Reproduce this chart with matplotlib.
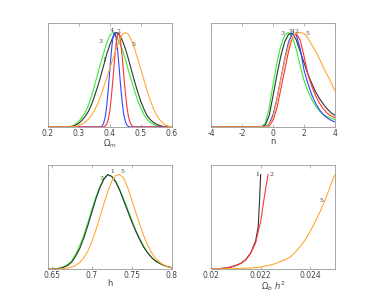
import numpy as np
import matplotlib
matplotlib.use('Agg')
import matplotlib.pyplot as plt

# ── DATA ─────────────────────────────────────────────────────────────────
# panel 1 : Omega_m
OM_GREEN_X = [0.20, 0.26, 0.27, 0.28, 0.29, 0.30, 0.31, 0.32, 0.33, 0.34, 0.35, 0.36, 0.37,
              0.38, 0.39, 0.40, 0.41, 0.42, 0.43, 0.44, 0.45, 0.46, 0.47, 0.48, 0.49,
              0.50, 0.51, 0.52, 0.53, 0.54, 0.55, 0.56, 0.57, 0.58, 0.60]
OM_GREEN_Y = [0, 0, 0.005, 0.01, 0.03, 0.06, 0.1, 0.15, 0.22, 0.32, 0.43, 0.55, 0.67,
              0.78, 0.89, 0.97, 1.0, 0.97, 0.9, 0.82, 0.72, 0.6, 0.49, 0.38, 0.28,
              0.2, 0.13, 0.08, 0.05, 0.03, 0.015, 0.007, 0.003, 0, 0]
OM_BLACK_X = [0.20, 0.26, 0.27, 0.28, 0.29, 0.30, 0.31, 0.32, 0.33, 0.34, 0.35, 0.36, 0.37,
              0.38, 0.39, 0.40, 0.41, 0.42, 0.43, 0.44, 0.45, 0.46, 0.47, 0.48, 0.49,
              0.50, 0.51, 0.52, 0.53, 0.54, 0.55, 0.56, 0.57, 0.58, 0.59, 0.60]
OM_BLACK_Y = [0, 0, 0.003, 0.008, 0.02, 0.04, 0.07, 0.11, 0.16, 0.23, 0.32, 0.42, 0.53,
              0.65, 0.77, 0.87, 0.95, 1.0, 0.98, 0.92, 0.83, 0.72, 0.6, 0.48, 0.37,
              0.27, 0.19, 0.12, 0.08, 0.05, 0.03, 0.015, 0.007, 0.003, 0, 0]
OM_BLUE_X = [0.20, 0.37, 0.375, 0.38, 0.385, 0.39, 0.395, 0.40, 0.405, 0.41, 0.415, 0.42,
             0.425, 0.43, 0.435, 0.44, 0.445, 0.45, 0.455, 0.46, 0.465, 0.60]
OM_BLUE_Y = [0, 0, 0.01, 0.04, 0.1, 0.22, 0.4, 0.6, 0.8, 0.95, 1.0, 0.95,
             0.82, 0.63, 0.43, 0.26, 0.13, 0.06, 0.02, 0.005, 0, 0]
OM_RED_X = [0.20, 0.38, 0.385, 0.39, 0.395, 0.40, 0.405, 0.41, 0.415, 0.42, 0.425, 0.43,
            0.435, 0.44, 0.445, 0.45, 0.455, 0.46, 0.465, 0.47, 0.475, 0.48, 0.60]
OM_RED_Y = [0, 0, 0.01, 0.03, 0.08, 0.17, 0.32, 0.5, 0.7, 0.87, 0.98, 0.99,
            0.9, 0.74, 0.55, 0.37, 0.22, 0.11, 0.05, 0.02, 0.005, 0, 0]
OM_ORANGE_X = [0.20, 0.27, 0.28, 0.29, 0.30, 0.31, 0.32, 0.33, 0.34, 0.35, 0.36, 0.37,
               0.38, 0.39, 0.40, 0.41, 0.42, 0.43, 0.44, 0.45, 0.46, 0.47, 0.48, 0.49,
               0.50, 0.51, 0.52, 0.53, 0.54, 0.55, 0.56, 0.57, 0.58, 0.59, 0.60]
OM_ORANGE_Y = [0, 0, 0.003, 0.007, 0.015, 0.03, 0.05, 0.08, 0.12, 0.17, 0.24, 0.32,
               0.42, 0.52, 0.62, 0.72, 0.82, 0.91, 0.98, 1.0, 0.98, 0.92, 0.83, 0.72,
               0.61, 0.5, 0.39, 0.29, 0.2, 0.13, 0.08, 0.045, 0.02, 0.008, 0.003]

# panel 2 : n
N_X = [-4.0, -1.0, -0.75, -0.5, -0.25, 0.0, 0.25, 0.5, 0.75, 1.0, 1.25, 1.5, 1.75,
       2.0, 2.25, 2.5, 2.75, 3.0, 3.25, 3.5, 3.75, 4.0]
N_GREEN = [0, 0, 0, 0.04, 0.2, 0.45, 0.68, 0.86, 0.97, 1.0, 0.95, 0.82, 0.65,
           0.49, 0.38, 0.29, 0.22, 0.17, 0.13, 0.11, 0.09, 0.077]
N_BLACK = [0, 0, 0, 0.02, 0.12, 0.33, 0.55, 0.75, 0.9, 0.98, 0.99, 0.92, 0.8,
           0.68, 0.56, 0.46, 0.37, 0.3, 0.24, 0.19, 0.15, 0.123]
N_BLUE = [0, 0, 0, 0, 0.03, 0.13, 0.3, 0.51, 0.72, 0.9, 0.99, 0.97, 0.83,
          0.6, 0.46, 0.34, 0.25, 0.18, 0.13, 0.095, 0.07, 0.053]
N_RED = [0, 0, 0, 0, 0.01, 0.07, 0.2, 0.4, 0.6, 0.8, 0.95, 0.99, 0.92,
         0.75, 0.56, 0.43, 0.33, 0.25, 0.19, 0.145, 0.115, 0.098]
N_ORANGE = [0, 0, 0, 0, 0.02, 0.1, 0.28, 0.5, 0.7, 0.86, 0.95, 0.99, 1.0,
            0.99, 0.94, 0.87, 0.8, 0.72, 0.63, 0.55, 0.47, 0.38]

# panel 3 : h
H_X = [0.645, 0.65, 0.655, 0.66, 0.665, 0.67, 0.675, 0.68, 0.685, 0.69, 0.695, 0.70,
       0.705, 0.71, 0.715, 0.72, 0.725, 0.73, 0.735, 0.74, 0.745, 0.75, 0.755,
       0.76, 0.765, 0.77, 0.775, 0.78, 0.785, 0.79, 0.795, 0.80]
H_GREEN = [0, 0, 0.005, 0.01, 0.025, 0.05, 0.09, 0.16, 0.25, 0.36, 0.49, 0.63,
           0.76, 0.87, 0.96, 1.0, 0.98, 0.93, 0.84, 0.74, 0.63, 0.52, 0.41,
           0.32, 0.24, 0.17, 0.12, 0.08, 0.06, 0.04, 0.025, 0.015]
H_BLACK = [0, 0, 0.003, 0.008, 0.02, 0.04, 0.075, 0.14, 0.22, 0.33, 0.46, 0.6,
           0.74, 0.86, 0.95, 1.0, 0.98, 0.92, 0.83, 0.72, 0.61, 0.5, 0.4,
           0.31, 0.23, 0.17, 0.12, 0.085, 0.06, 0.04, 0.025, 0.015]
H_ORANGE = [0, 0, 0, 0.003, 0.006, 0.012, 0.022, 0.04, 0.07, 0.12, 0.19, 0.29,
            0.41, 0.55, 0.69, 0.82, 0.93, 0.99, 1.0, 0.96, 0.86, 0.73, 0.6,
            0.47, 0.35, 0.25, 0.17, 0.11, 0.07, 0.045, 0.025, 0.012]

# panel 4 : Omega_b h^2
OB_BLACK_X = [0.0200, 0.0202, 0.0204, 0.0206, 0.0208, 0.0210, 0.0212, 0.0214,
              0.0216, 0.0218, 0.0219, 0.02195, 0.0220]
OB_BLACK_Y = [0, 0.002, 0.006, 0.012, 0.022, 0.038, 0.06, 0.1,
              0.17, 0.3, 0.45, 0.7, 1.0]
OB_RED_X = [0.0200, 0.0202, 0.0204, 0.0206, 0.0208, 0.0210, 0.0212, 0.0214,
            0.0216, 0.0218, 0.0219, 0.0220, 0.0221, 0.0222, 0.0223]
OB_RED_Y = [0, 0.002, 0.006, 0.012, 0.022, 0.038, 0.06, 0.1,
            0.17, 0.28, 0.4, 0.5, 0.68, 0.85, 1.0]
OB_ORANGE_X = [0.0200, 0.0205, 0.0210, 0.0215, 0.0220, 0.0225, 0.0230, 0.0232,
               0.0234, 0.0236, 0.0238, 0.0240, 0.0242, 0.0244, 0.0246, 0.0248,
               0.0249, 0.0250]
OB_ORANGE_Y = [0, 0.002, 0.005, 0.01, 0.02, 0.05, 0.1, 0.13,
               0.18, 0.24, 0.31, 0.40, 0.5, 0.61, 0.73, 0.87, 0.94, 1.0]

# ── STYLE ────────────────────────────────────────────────────────────────
GREEN = '#33ee33'; BLACK = '#333333'; BLUE = '#3344ff'
RED = '#ff3333'; ORANGE = '#ffaa33'; GRAY = '#999999'
LW = 0.8

fig = plt.figure(figsize=(3.71, 3.03), dpi=100)
fig.patch.set_facecolor('white')

W, H = 0.334, 0.343
ax1 = fig.add_axes([0.129, 0.581, W, H])
ax2 = fig.add_axes([0.569, 0.581, W, H])
ax3 = fig.add_axes([0.129, 0.112, W, H])
ax4 = fig.add_axes([0.569, 0.112, W, H])


def style(ax, xlim, ticks, labels, xlabel, pad):
    ax.set_xlim(*xlim)
    ax.set_ylim(0, 1.1)
    ax.set_yticks([])
    ax.set_xticks(ticks)
    ax.set_xticklabels(labels, fontsize=5.5, color='#444444')
    ax.tick_params(axis='x', direction='in', length=2, width=0.5,
                   color=GRAY, top=True, pad=1.5)
    for sp in ax.spines.values():
        sp.set_edgecolor(GRAY)
        sp.set_linewidth(0.6)
    ax.set_xlabel(xlabel, fontsize=6, color='#444444', labelpad=pad)


def lab(ax, x, y, s):
    ax.text(x, y, s, fontsize=4.5, family='DejaVu Serif', color='#444444',
            ha='center', va='center')


# panel 1
ax1.plot(OM_GREEN_X, OM_GREEN_Y, color=GREEN, lw=LW)
ax1.plot(OM_BLACK_X, OM_BLACK_Y, color=BLACK, lw=LW)
ax1.plot(OM_BLUE_X, OM_BLUE_Y, color=BLUE, lw=LW)
ax1.plot(OM_RED_X, OM_RED_Y, color=RED, lw=LW)
ax1.plot(OM_ORANGE_X, OM_ORANGE_Y, color=ORANGE, lw=LW)
style(ax1, (0.2, 0.6), [0.2, 0.3, 0.4, 0.5, 0.6],
      ['0.2', '0.3', '0.4', '0.5', '0.6'], r'$\Omega_m$', -0.5)
lab(ax1, 0.371, 0.9, '3')
lab(ax1, 0.382, 0.71, '1')
lab(ax1, 0.407, 1.02, '4')
lab(ax1, 0.429, 1.01, '2')
lab(ax1, 0.476, 0.87, '5')

# panel 2
ax2.plot(N_X, N_GREEN, color=GREEN, lw=LW)
ax2.plot(N_X, N_BLACK, color=BLACK, lw=LW)
ax2.plot(N_X, N_BLUE, color=BLUE, lw=LW)
ax2.plot(N_X, N_RED, color=RED, lw=LW)
ax2.plot(N_X, N_ORANGE, color=ORANGE, lw=LW)
style(ax2, (-4, 4), [-4, -2, 0, 2, 4], ['-4', '-2', '0', '2', '4'], 'n', -0.5)
lab(ax2, 0.6, 0.99, '3')
lab(ax2, 1.12, 1.01, '1')
lab(ax2, 1.29, 1.01, '4')
lab(ax2, 1.5, 1.01, '2')
lab(ax2, 2.25, 0.99, '5')

# panel 3
ax3.plot(H_X, H_GREEN, color=GREEN, lw=LW)
ax3.plot(H_X, H_BLACK, color=BLACK, lw=LW)
ax3.plot(H_X, H_ORANGE, color=ORANGE, lw=LW)
style(ax3, (0.645, 0.8), [0.65, 0.7, 0.75, 0.8],
      ['0.65', '0.7', '0.75', '0.8'], 'h', -0.5)
lab(ax3, 0.7116, 0.96, '3')
lab(ax3, 0.726, 1.03, '1')
lab(ax3, 0.738, 1.03, '5')

# panel 4
ax4.plot(OB_BLACK_X, OB_BLACK_Y, color=BLACK, lw=LW)
ax4.plot(OB_RED_X, OB_RED_Y, color=RED, lw=LW)
ax4.plot(OB_ORANGE_X, OB_ORANGE_Y, color=ORANGE, lw=LW)
style(ax4, (0.02, 0.025), [0.02, 0.022, 0.024],
      ['0.02', '0.022', '0.024'], r'$\Omega_b\ h^2$', -0.5)
lab(ax4, 0.02187, 1.0, '1')
lab(ax4, 0.02246, 1.0, '2')
lab(ax4, 0.02444, 0.73, '5')

fig.savefig('out.png', dpi=100, facecolor='white')
plt.close(fig)
